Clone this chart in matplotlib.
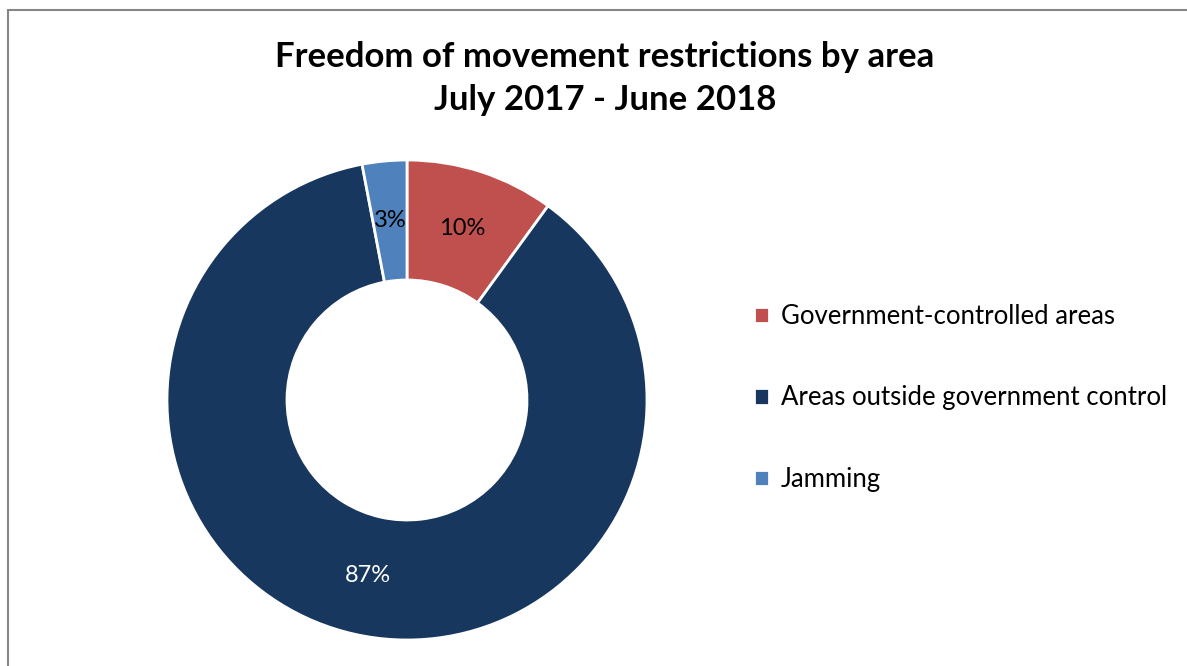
import matplotlib.pyplot as plt
from matplotlib.patches import Rectangle

# data
labels = ['Government-controlled areas', 'Areas outside government control', 'Jamming']
shares = [10, 87, 3]
colors = ['#C0504D', '#17375E', '#4F81BD']
label_colors = ['black', 'white', 'black']

plt.rcParams['font.family'] = ['Lato', 'DejaVu Sans']

fig = plt.figure(figsize=(11.87, 6.66), dpi=100)

# chart frame (right and bottom sides fall outside the image)
fig.patches.append(Rectangle((7.5 / 1187, -0.1), 1.2, 0.1 + (666 - 10.5) / 666,
                             transform=fig.transFigure, fill=False,
                             edgecolor='#868686', linewidth=1.5))

ax = fig.add_axes([(407 - 240) / 1187, (666 - 640) / 666, 480 / 1187, 480 / 666])
wedges, texts, autotexts = ax.pie(
    shares, colors=colors, startangle=90, counterclock=False, radius=1,
    autopct='%1.0f%%', pctdistance=0.75,
    wedgeprops=dict(width=0.5, edgecolor='white', linewidth=2),
    textprops=dict(fontsize=17))
for t, c in zip(autotexts, label_colors):
    t.set_color(c)
ax.set_xlim(-1, 1)
ax.set_ylim(-1, 1)
ax.set_aspect('equal')

fig.text(605 / 1187, 1 - 57 / 666, 'Freedom of movement restrictions by area',
         ha='center', va='center', fontsize=25, fontweight='bold')
fig.text(605 / 1187, 1 - 100 / 666, 'July 2017 - June 2018',
         ha='center', va='center', fontsize=25, fontweight='bold')

fig.legend(wedges, labels, loc='center left', bbox_to_anchor=(754 / 1187, 1 - 398 / 666),
           frameon=False, fontsize=18.5, labelspacing=2.2, handlelength=0.6,
           handleheight=0.6, handletextpad=0.45, borderpad=0, borderaxespad=0)

fig.savefig('out.png', dpi=100)
